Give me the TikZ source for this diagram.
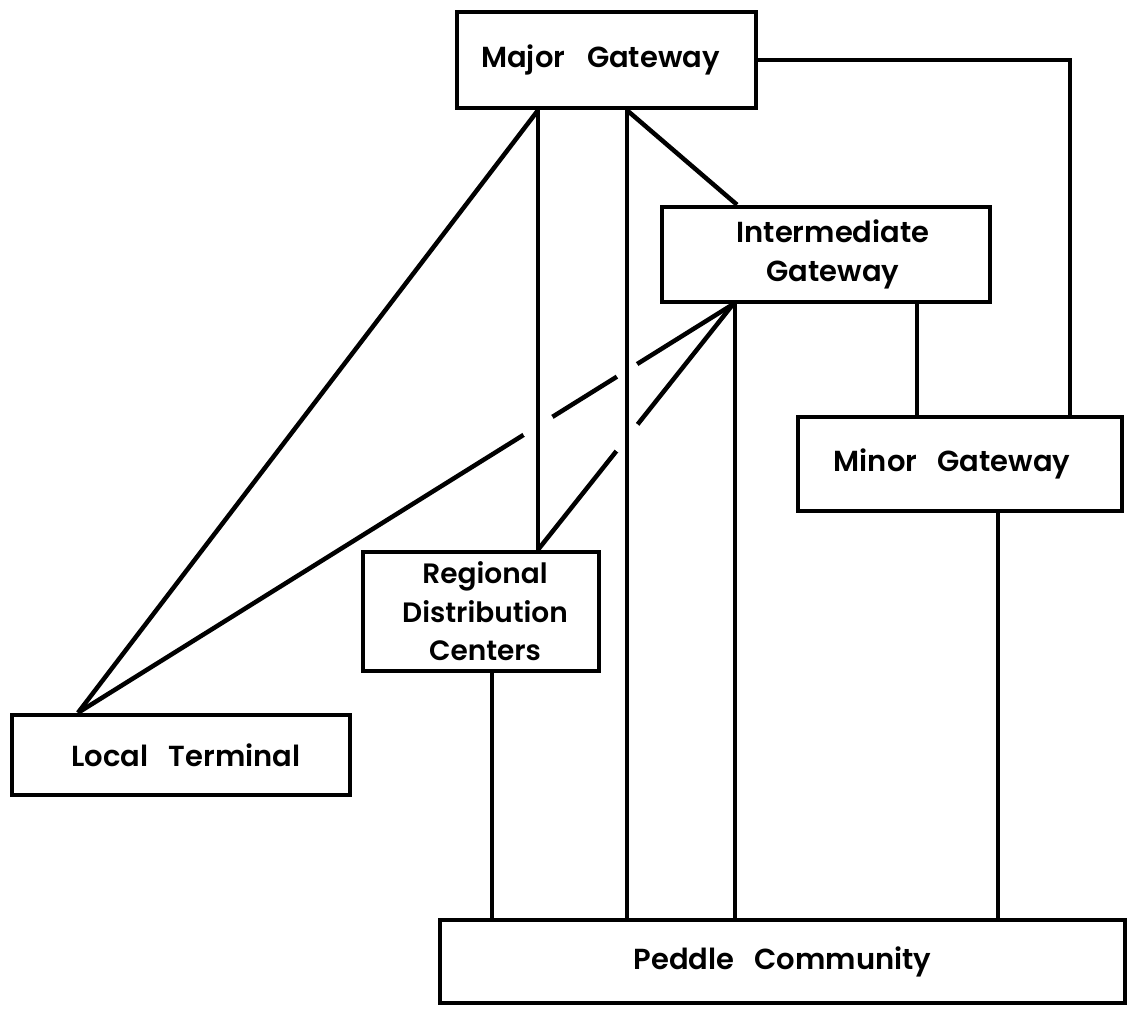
\documentclass[tikz,border=0pt]{standalone}
\usepackage{fontspec}
\setmainfont{Poppins}[UprightFont={* SemiBold}]
\usetikzlibrary{intersections}
\begin{document}
\begin{tikzpicture}[x=1pt,y=-1pt,
  box/.style={draw=black, line width=4.5pt, rectangle, inner sep=0pt, align=center,
    font=\fontsize{29}{39}\selectfont},
  link/.style={draw=black, line width=4.5pt},
  gap/.style={fill=white}]
\useasboundingbox (0,0) rectangle (1129,1013);
\fill[white] (0,0) rectangle (1129,1013);
% boxes
\node[box, minimum width=299pt, minimum height=96pt] (maj) at (606.5,60) {Major\hspace{0.75em}Gateway\hspace{12pt}};
\node[box, minimum width=328pt, minimum height=95pt] (intg) at (826,254.5) {\hspace{14pt}Intermediate\\\hspace{14pt}Gateway};
\node[box, minimum width=324pt, minimum height=94pt] (mino) at (960,464) {Minor\hspace{0.7em}Gateway\hspace{16pt}};
\node[box, minimum width=236pt, minimum height=119pt, font=\fontsize{28}{38.5}\selectfont] (reg) at (481,611.5) {\hspace{8pt}Regional\\\hspace{8pt}Distribution\\\hspace{8pt}Centers};
\node[box, minimum width=338pt, minimum height=80pt] (loc) at (181,755) {\hspace{10pt}Local\hspace{0.7em}Terminal};
\node[box, minimum width=685pt, minimum height=83pt] (ped) at (782.5,961.5) {Peddle\hspace{0.7em}Community};
% connector end points
\coordinate (mA) at (538,0 |- maj.south);
\coordinate (mB) at (627,0 |- maj.south);
\coordinate (iA) at (733,0 |- intg.south);
\coordinate (iB) at (735,0 |- intg.south);
\coordinate (iC) at (917,0 |- intg.south);
\coordinate (iT) at (737,0 |- intg.north);
\coordinate (lT) at (78,0 |- loc.north);
\coordinate (rT) at (538,0 |- reg.north);
\coordinate (rB) at (492,0 |- reg.south);
\coordinate (nT) at (917,0 |- mino.north);
\coordinate (nR) at (1070,0 |- mino.north);
\coordinate (nB) at (998,0 |- mino.south);
\coordinate (p1) at (492,0 |- ped.north);
\coordinate (p2) at (627,0 |- ped.north);
\coordinate (p3) at (735,0 |- ped.north);
\coordinate (p4) at (998,0 |- ped.north);
% diagonals from the intermediate gateway (broken where they pass behind)
\draw[link, name path=dA] (iA) -- (lT);
\draw[link, name path=dB] (iA) -- (rT);
\path[name path=vA] (mA) -- (rT);
\path[name path=vB] (mB) -- (p2);
\path[name intersections={of=dA and vA, by={xA}}];
\path[name intersections={of=dA and vB, by={xB}}];
\path[name intersections={of=dB and vB, by={xC}}];
\fill[gap] (xA) circle[radius=17pt];
\fill[gap] (xB) circle[radius=12pt];
\fill[gap] (xC) circle[radius=17pt];
% remaining connectors
\draw[link] (mA) -- (lT);
\draw[link] (mA) -- (rT);
\draw[link] (mB) -- (p2);
\draw[link] (mB) -- (iT);
\draw[link] (maj.east) -| (nR);
\draw[link] (iB) -- (p3);
\draw[link] (iC) -- (nT);
\draw[link] (nB) -- (p4);
\draw[link] (rB) -- (p1);
\end{tikzpicture}
\end{document}
